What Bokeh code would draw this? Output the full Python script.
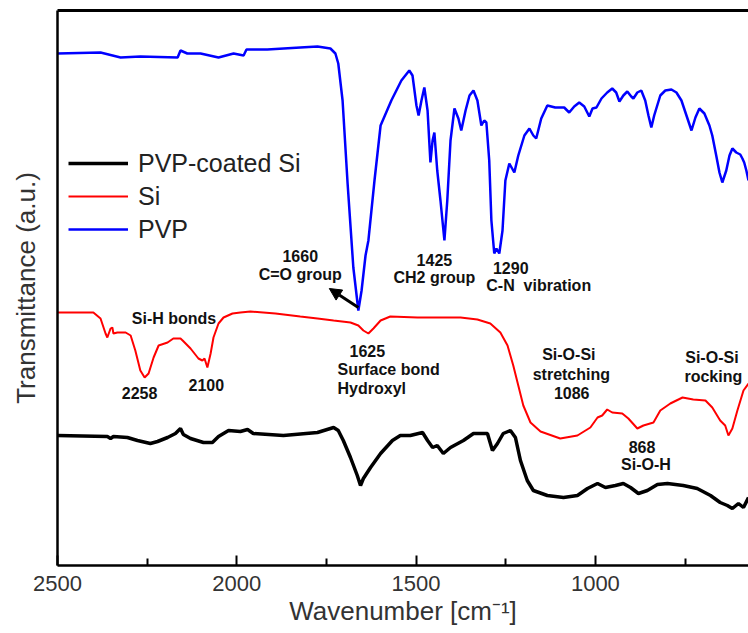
from bokeh.plotting import figure
from bokeh.models import (Range1d, FixedTicker, LinearAxis, Legend, LegendItem,
                          Arrow, NormalHead, Label)
from bokeh.embed import file_html
from bokeh.resources import INLINE

# ---------------- data ----------------
pvp_wn = [2500, 2380, 2324, 2269, 2165, 2157, 2138, 2101, 2051, 2009, 1981, 1973,
          1915, 1823, 1775, 1739, 1725, 1717, 1705, 1691, 1675, 1661, 1652, 1641,
          1633, 1616, 1599, 1569, 1541, 1519, 1510, 1499, 1493, 1485, 1477, 1468,
          1460, 1454, 1449, 1441, 1432, 1421, 1413, 1404, 1393, 1382, 1374, 1362,
          1351, 1340, 1329, 1318, 1310, 1304, 1296, 1290, 1282, 1276, 1268, 1259,
          1251, 1240, 1226, 1215, 1198, 1184, 1173, 1165, 1151, 1134, 1112, 1087,
          1073, 1059, 1045, 1031, 1017, 1008, 997, 983, 967, 953, 942, 933, 922,
          911, 900, 894, 883, 872, 861, 852, 844, 836, 819, 805, 788, 774, 760,
          746, 732, 721, 710, 696, 682, 674, 663, 654, 646, 635, 626, 618, 607,
          596, 590, 585, 579, 573]
pvp_t = [512, 513, 508, 509, 508, 515, 512, 512, 508, 512, 510, 516,
         516, 518, 519, 517, 512, 502, 465, 382, 298, 255, 275, 310,
         325, 385, 440, 465, 485, 495, 490, 460, 450, 465, 478, 455,
         403, 425, 433, 395, 365, 325, 365, 425, 457, 447, 435, 455,
         470, 475, 465, 440, 445, 443, 405, 345, 312, 317, 312, 335,
         385, 402, 393, 410, 430, 437, 430, 427, 447, 460, 458, 458,
         453, 459, 463, 459, 449, 457, 458, 467, 473, 477, 473, 464, 470,
         474, 469, 467, 473, 475, 465, 450, 438, 450, 470, 475, 476, 473, 465,
         450, 435, 448, 457, 452, 440, 430, 410, 393, 383, 395, 410, 417, 413,
         411, 407, 403, 395, 385]

si_wn = [2500, 2400, 2380, 2366, 2361, 2352, 2347, 2344, 2333, 2310, 2296, 2283,
         2269, 2257, 2246, 2232, 2218, 2193, 2177, 2157, 2151, 2129, 2107, 2096,
         2090, 2082, 2073, 2065, 2051, 2037, 2012, 1990, 1962, 1892, 1823, 1775,
         1730, 1683, 1661, 1647, 1633, 1619, 1599, 1572, 1496, 1452, 1376, 1329,
         1293, 1265, 1245, 1229, 1215, 1201, 1181, 1153, 1098, 1050, 1014, 994,
         981, 967, 953, 925, 908, 883, 866, 838, 819, 791, 757, 727, 693, 674,
         652, 638, 629, 618, 604, 587, 573]
si_t = [253, 253, 247, 232, 228, 237, 238, 232, 233, 233, 230, 215,
        195, 188, 192, 208, 220, 223, 227, 227, 225, 217, 207, 205,
        207, 198, 212, 228, 242, 248, 252, 253, 254, 252, 249, 247,
        245, 243, 240, 235, 232, 237, 245, 249, 248, 248, 248, 246,
        242, 233, 220, 200, 180, 160, 143, 134, 127, 130, 138, 148,
        150, 156, 153, 152, 147, 137, 140, 143, 155, 162, 168, 166, 165, 158,
        145, 140, 130, 137, 155, 175, 182]

coated_wn = [2500, 2361, 2352, 2344, 2305, 2277, 2241, 2221, 2193, 2171, 2157, 2149,
             2129, 2093, 2068, 2051, 2023, 1990, 1970, 1954, 1870, 1775, 1730, 1717,
             1703, 1683, 1664, 1655, 1647, 1627, 1599, 1566, 1544, 1516, 1482, 1468,
             1454, 1441, 1424, 1404, 1368, 1340, 1301, 1287, 1273, 1257, 1237, 1223,
             1209, 1190, 1173, 1134, 1089, 1050, 1022, 994, 972, 944, 922, 902, 880,
             855, 827, 799, 755, 716, 679, 652, 632, 618, 601, 587, 573]
coated_t = [130, 129, 127, 129, 128, 125, 122, 124, 128, 132, 137, 131,
            127, 123, 123, 129, 135, 134, 136, 132, 130, 133, 138, 135,
            125, 108, 90, 80, 87, 98, 112, 125, 130, 130, 133, 125,
            118, 120, 112, 118, 125, 132, 132, 115, 122, 132, 135, 128,
            105, 85, 75, 70, 68, 70, 77, 82, 78, 80, 82, 78, 72,
            75, 81, 82, 80, 77, 70, 63, 60, 57, 62, 58, 68]

x_major = [2500, 2000, 1500, 1000]
x_minor = [2250, 1750, 1250, 750]

# annotations: (text, wavenumber, transmittance, align)
notes = [
    ("1660", 1823, 310, "center"),
    ("C=O group", 1823, 291, "center"),
    ("1425", 1449, 306, "center"),
    ("CH2 group", 1449, 288, "center"),
    ("1290", 1236, 298, "center"),
    ("C-N\u00a0 vibration", 1158, 280, "center"),
    ("Si-H bonds", 2175, 247, "center"),
    ("2258", 2271, 173, "center"),
    ("2100", 2085, 181, "center"),
    ("1625", 1636, 215, "center"),
    ("Surface bond", 1719, 196, "left"),
    ("Hydroxyl", 1719, 177, "left"),
    ("Si-O-Si", 1074, 211, "center"),
    ("stretching", 1067, 191, "center"),
    ("1086", 1066, 173, "center"),
    ("868", 870, 119, "center"),
    ("Si-O-H", 859, 101, "center"),
    ("Si-O-Si", 675, 208, "center"),
    ("rocking", 671, 189, "center"),
]
arrow_from = (1661, 258)
arrow_to = (1742, 277)

FONT = "Liberation Sans"

p = figure(width=748, height=633, output_backend="svg", toolbar_location=None,
           x_range=Range1d(2500, 573), y_range=Range1d(0, 555),
           min_border_left=57, min_border_right=0, min_border_top=10,
           min_border_bottom=68, background_fill_color="white",
           border_fill_color="white", outline_line_color=None)
p.grid.visible = False

r_coated = p.line(coated_wn, coated_t, line_color="black", line_width=3.5)
r_si = p.line(si_wn, si_t, line_color="#ff0000", line_width=2)
r_pvp = p.line(pvp_wn, pvp_t, line_color="#0000ff", line_width=2.5)

# x axis
xa = p.xaxis[0]
xa.ticker = FixedTicker(ticks=x_major, minor_ticks=x_minor)
xa.axis_line_width = 2.5
xa.axis_line_color = "black"
xa.major_tick_in = 10
xa.major_tick_out = 0
xa.minor_tick_in = 7
xa.minor_tick_out = 0
xa.major_tick_line_width = 2
xa.minor_tick_line_width = 2
xa.major_tick_line_color = "black"
xa.minor_tick_line_color = "black"
xa.major_label_text_font = FONT
xa.major_label_text_font_size = "22px"
xa.major_label_text_color = "#333333"
xa.major_label_standoff = 10
xa.axis_label = "Wavenumber [cm\u207b\u00b9]"
xa.axis_label_text_font = FONT
xa.axis_label_text_font_size = "26px"
xa.axis_label_text_font_style = "normal"
xa.axis_label_text_color = "#333333"
xa.axis_label_standoff = 2

# y axis
ya = p.yaxis[0]
ya.ticker = FixedTicker(ticks=[])
ya.axis_line_width = 2.5
ya.axis_line_color = "black"
ya.major_label_text_font_size = "0px"
ya.axis_label = "Transmittance (a.u.)"
ya.axis_label_text_font = FONT
ya.axis_label_text_font_size = "26px"
ya.axis_label_text_font_style = "normal"
ya.axis_label_text_color = "#333333"
ya.axis_label_standoff = 17

# top border
top = LinearAxis(ticker=FixedTicker(ticks=[]), major_label_text_font_size="0px",
                 axis_line_width=3, axis_line_color="black",
                 major_tick_line_color=None, minor_tick_line_color=None)
p.add_layout(top, "above")

# legend
legend = Legend(items=[LegendItem(label="PVP-coated Si", renderers=[r_coated]),
                       LegendItem(label="Si", renderers=[r_si]),
                       LegendItem(label="PVP", renderers=[r_pvp])],
                location=(11, 321), label_text_font=FONT,
                label_text_font_size="25px", label_text_color="#222222",
                glyph_width=60, glyph_height=30, label_height=30,
                label_standoff=10, spacing=3, padding=0, margin=0,
                border_line_color=None, background_fill_alpha=0)
p.add_layout(legend)

for txt, wx, ty, al in notes:
    p.add_layout(Label(x=wx, y=ty, text=txt, text_align=al,
                       text_baseline="middle", text_font=FONT,
                       text_font_size="16px", text_font_style="bold",
                       text_color="#111111"))

p.add_layout(Arrow(end=NormalHead(size=12, fill_color="black", line_color="black"),
                   x_start=arrow_from[0], y_start=arrow_from[1],
                   x_end=arrow_to[0], y_end=arrow_to[1],
                   line_width=3, line_color="black"))

open("out.html", "w").write(file_html(p, INLINE))
